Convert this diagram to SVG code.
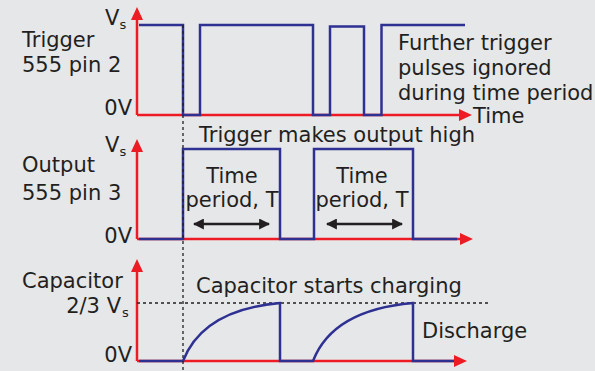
<svg xmlns="http://www.w3.org/2000/svg" width="595" height="371" viewBox="0 0 595 371">
<defs>
<style>
text{font-family:"DejaVu Sans","Liberation Sans",sans-serif;font-size:21px;fill:#231f20}
.sub{font-size:13px}
.ax{stroke:#ed1c24;stroke-width:2.5;fill:none}
.sig{stroke:#2e3192;stroke-width:2.5;fill:none;stroke-linejoin:miter}
.dot{stroke:#231f20;stroke-width:1.3;stroke-dasharray:3 3;fill:none}
.dbl{stroke:#231f20;stroke-width:2.5;fill:none;marker-start:url(#ha);marker-end:url(#ha)}
</style>
<marker id="ha" viewBox="0 0 10 10" refX="9" refY="5" markerWidth="4.4" markerHeight="4.4" orient="auto-start-reverse" markerUnits="strokeWidth">
<path d="M0,0 L10,5 L0,10 z" fill="#231f20"/>
</marker>
</defs>
<rect width="595" height="371" fill="#e6e7e9"/>

<g id="trigger-panel">
<path class="ax" d="M137,115 V19 M137,115 H460"/>
<path d="M137,7 L131,20 L143,20 z M472,115 L459,109 L459,121 z" fill="#ed1c24"/>
<path class="sig" d="M139,25 H183 V115 H200 V25 H313 V115 H330 V26.5 H364 V115 H381.5 V25 H465"/>
<text x="105" y="25">V<tspan class="sub" dy="4">s</tspan></text>
<text x="22" y="47">Trigger</text>
<text x="22" y="72">555 pin 2</text>
<text x="132" y="115" text-anchor="end">0V</text>
<text x="398" y="50">Further trigger</text>
<text x="398" y="75">pulses ignored</text>
<text x="398" y="100">during time period</text>
<text x="473" y="123">Time</text>
</g>

<g id="output-panel">
<path class="ax" d="M137,239 V151 M137,239 H461"/>
<path d="M137,139 L131,152 L143,152 z M473,239 L460,233 L460,245 z" fill="#ed1c24"/>
<path class="sig" d="M139,239 H183 V149 H280 V239 H314 V149 H413 V239 H457"/>
<text x="105" y="152">V<tspan class="sub" dy="4">s</tspan></text>
<text x="22" y="172">Output</text>
<text x="22" y="200">555 pin 3</text>
<text x="132" y="243" text-anchor="end">0V</text>
<text x="199" y="142">Trigger makes output high</text>
<text x="232" y="183" text-anchor="middle">Time</text>
<text x="232" y="207" text-anchor="middle">period, T</text>
<text x="362" y="183" text-anchor="middle">Time</text>
<text x="362" y="207" text-anchor="middle">period, T</text>
<path class="dbl" d="M194,224 H269"/>
<path class="dbl" d="M327,224 H402"/>
</g>

<g id="capacitor-panel">
<path class="ax" d="M137,361 V271 M137,361 H455"/>
<path d="M137,259 L131,272 L143,272 z M467,361 L454,355 L454,367 z" fill="#ed1c24"/>
<path class="dot" d="M137,303 H488"/>
<path class="sig" d="M139,361 H183 C195,330 225,308 280,303 V361 H313 C325,330 355,308 413,303 V361 H454"/>
<text x="22" y="288">Capacitor</text>
<text x="121" y="313" text-anchor="end">2/3 V</text>
<text class="sub" x="122" y="317">s</text>
<text x="132" y="362" text-anchor="end">0V</text>
<text x="196" y="293">Capacitor starts charging</text>
<text x="422" y="338">Discharge</text>
</g>

<g id="connectors">
<path class="dot" d="M183,25 V371"/>
</g>
</svg>
